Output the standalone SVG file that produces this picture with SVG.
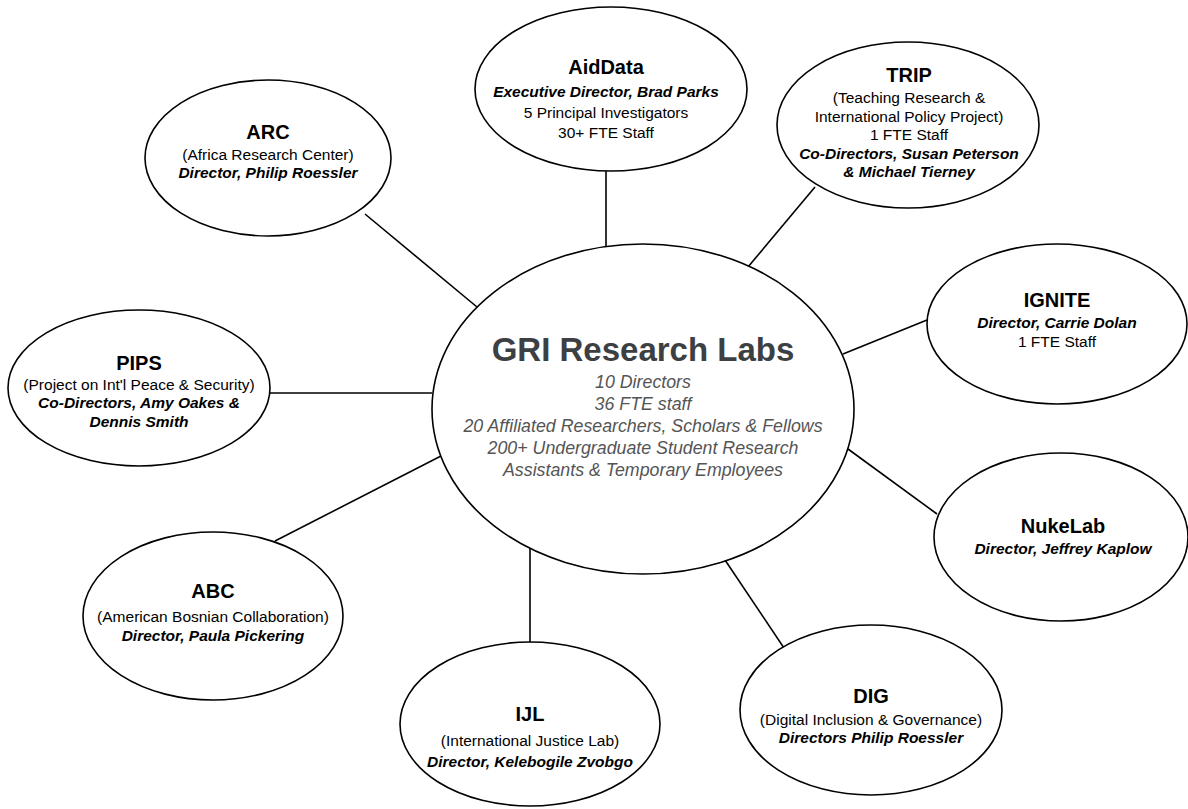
<svg xmlns="http://www.w3.org/2000/svg" width="1188" height="809" viewBox="0 0 1188 809">
<style>
.n{fill:#fff;stroke:#000;stroke-width:1.6}
.c line{stroke:#000;stroke-width:1.6}
text{font-family:"Liberation Sans",Arial,sans-serif;text-anchor:middle;fill:#000}
.t{font-size:20px;font-weight:bold}
.s{font-size:15.5px}
.b{font-size:15.5px;font-weight:bold;font-style:italic}
.gt{font-size:33px;font-weight:bold;fill:#3d4043}
.gs{font-size:17.8px;font-style:italic;fill:#555}
</style>
<rect width="1188" height="809" fill="#fff"/>
<g class="c" id="connectors">
<line x1="365" y1="214" x2="477" y2="307"/>
<line x1="606" y1="170" x2="606" y2="247"/>
<line x1="815" y1="187" x2="748" y2="267"/>
<line x1="843" y1="354" x2="927" y2="320"/>
<line x1="848" y1="449" x2="937" y2="514"/>
<line x1="725" y1="560" x2="784" y2="648"/>
<line x1="530" y1="548" x2="530" y2="642"/>
<line x1="441" y1="456" x2="275" y2="541"/>
<line x1="269" y1="393" x2="432" y2="393"/>
</g>
<g id="center">
<ellipse class="n" cx="643" cy="409" rx="211" ry="165"/>
<text class="gt" x="643" y="361">GRI Research Labs</text>
<text class="gs" x="643" y="388">10 Directors</text>
<text class="gs" x="643" y="410">36 FTE staff</text>
<text class="gs" x="643" y="432">20 Affiliated Researchers, Scholars &amp; Fellows</text>
<text class="gs" x="643" y="454">200+ Undergraduate Student Research</text>
<text class="gs" x="643" y="476">Assistants &amp; Temporary Employees</text>
</g>
<g id="arc">
<ellipse class="n" cx="268" cy="158" rx="123" ry="78"/>
<text class="t" x="268" y="139">ARC</text>
<text class="s" x="268" y="160">(Africa Research Center)</text>
<text class="b" x="268" y="178">Director, Philip Roessler</text>
</g>
<g id="aiddata">
<ellipse class="n" cx="611" cy="89" rx="136" ry="82"/>
<text class="t" x="606" y="74">AidData</text>
<text class="b" x="606" y="97">Executive Director, Brad Parks</text>
<text class="s" x="606" y="118">5 Principal Investigators</text>
<text class="s" x="606" y="138">30+ FTE Staff</text>
</g>
<g id="trip">
<ellipse class="n" cx="908" cy="125" rx="131" ry="83"/>
<text class="t" x="909" y="82">TRIP</text>
<text class="s" x="909" y="103">(Teaching Research &amp;</text>
<text class="s" x="909" y="122">International Policy Project)</text>
<text class="s" x="909" y="140">1 FTE Staff</text>
<text class="b" x="909" y="159">Co-Directors, Susan Peterson</text>
<text class="b" x="909" y="177">&amp; Michael Tierney</text>
</g>
<g id="ignite">
<ellipse class="n" cx="1057" cy="324" rx="130" ry="80"/>
<text class="t" x="1057" y="307">IGNITE</text>
<text class="b" x="1057" y="328">Director, Carrie Dolan</text>
<text class="s" x="1057" y="347">1 FTE Staff</text>
</g>
<g id="nukelab">
<ellipse class="n" cx="1061" cy="537" rx="127" ry="84"/>
<text class="t" x="1063" y="533">NukeLab</text>
<text class="b" x="1063" y="554">Director, Jeffrey Kaplow</text>
</g>
<g id="dig">
<ellipse class="n" cx="871" cy="710" rx="131" ry="85"/>
<text class="t" x="871" y="703">DIG</text>
<text class="s" x="871" y="725">(Digital Inclusion &amp; Governance)</text>
<text class="b" x="871" y="743">Directors Philip Roessler</text>
</g>
<g id="ijl">
<ellipse class="n" cx="530" cy="724" rx="130" ry="82"/>
<text class="t" x="530" y="721">IJL</text>
<text class="s" x="530" y="746">(International Justice Lab)</text>
<text class="b" x="530" y="767">Director, Kelebogile Zvobgo</text>
</g>
<g id="abc">
<ellipse class="n" cx="213" cy="616" rx="130" ry="84"/>
<text class="t" x="213" y="598">ABC</text>
<text class="s" x="213" y="622">(American Bosnian Collaboration)</text>
<text class="b" x="213" y="641">Director, Paula Pickering</text>
</g>
<g id="pips">
<ellipse class="n" cx="139" cy="388" rx="131" ry="78"/>
<text class="t" x="139" y="370">PIPS</text>
<text class="s" x="139" y="390">(Project on Int'l Peace &amp; Security)</text>
<text class="b" x="139" y="408">Co-Directors, Amy Oakes &amp;</text>
<text class="b" x="139" y="427">Dennis Smith</text>
</g>
</svg>
